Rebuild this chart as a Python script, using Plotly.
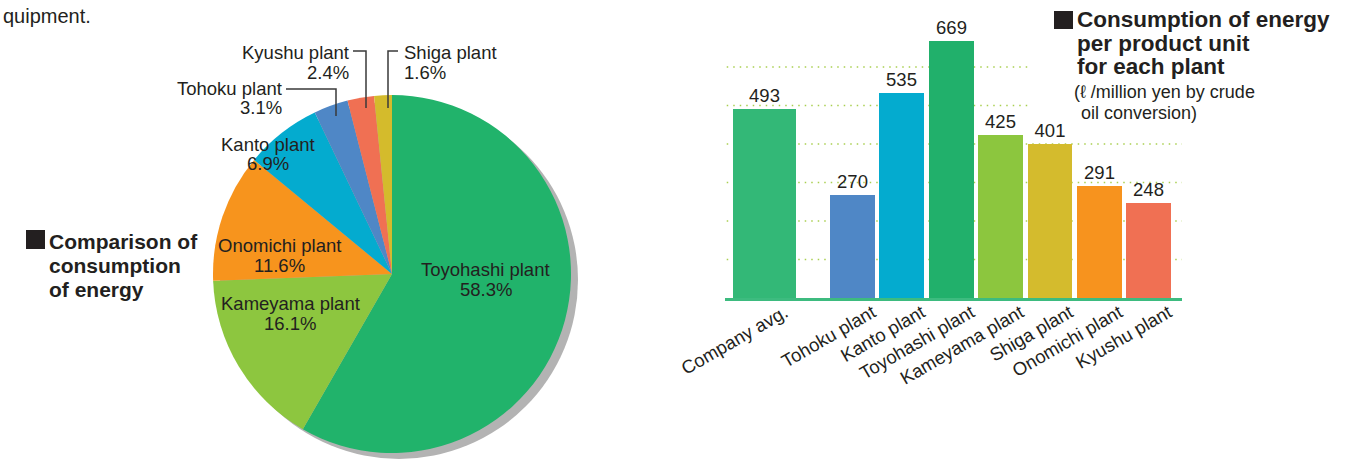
import plotly.graph_objects as go

# ---------------- data ----------------
pie_labels = ["Toyohashi plant", "Kameyama plant", "Onomichi plant", "Kanto plant",
              "Tohoku plant", "Kyushu plant", "Shiga plant"]
pie_values = [58.3, 16.1, 11.6, 6.9, 3.1, 2.4, 1.6]
pie_colors = ["#21b36b", "#8dc63f", "#f7941d", "#04abcf", "#4f87c6", "#f07053", "#d4bb2c"]

bar_categories = ["Company avg.", "Tohoku plant", "Kanto plant", "Toyohashi plant",
                  "Kameyama plant", "Shiga plant", "Onomichi plant", "Kyushu plant"]
bar_values = [493, 270, 535, 669, 425, 401, 291, 248]
bar_colors = ["#33b877", "#4f87c6", "#04abcf", "#21b06b", "#8cc63e", "#d4bb2d", "#f7931e", "#f07053"]
grid_values = [100, 200, 300, 400, 500, 600]

# ---------------- helpers ----------------
W, H = 1371, 460
FONT = "Liberation Sans, Arial, Helvetica, sans-serif"
TXT = "#231f20"


def px(x):
    return x / W


def py(y):
    return 1 - y / H


fig = go.Figure()

# ---------------- pie ----------------
cx, cy, r = 392, 274, 179
fig.add_trace(go.Pie(
    labels=pie_labels, values=pie_values, sort=False, direction="clockwise", rotation=0,
    marker=dict(colors=pie_colors, line=dict(width=0)),
    textinfo="none", showlegend=False, hoverinfo="label+percent",
    domain=dict(x=[px(cx - r), px(cx + r)], y=[py(cy + r), py(cy - r)]),
))

shapes = []
# pie shadow
shapes.append(dict(type="circle", xref="paper", yref="paper", layer="below",
                   x0=px(cx - r + 7), x1=px(cx + r + 7), y0=py(cy + r + 6), y1=py(cy - r + 6),
                   fillcolor="#b3b3b3", line=dict(width=0)))

annotations = []


def txt(text, x, y, size=18.5, anchor="center", bold=False, color=TXT):
    annotations.append(dict(text=f"<b>{text}</b>" if bold else text, x=px(x), y=py(y),
                            xref="paper", yref="paper", xanchor=anchor, yanchor="middle",
                            showarrow=False, font=dict(family=FONT, size=size, color=color)))


# pie labels
pie_label_pos = {
    "Toyohashi plant": (486, 269, 289, "center"),
    "Kameyama plant": (290, 303, 323, "center"),
    "Onomichi plant": (279, 245, 265, "center"),
    "Kanto plant": (268, 144, 164, "center"),
    "Tohoku plant": (284, 88, 108, "right"),
    "Kyushu plant": (351, 52, 72, "right"),
    "Shiga plant": (402, 52, 72, "left"),
}
for lab, val in zip(pie_labels, pie_values):
    x, y1, y2, anc = pie_label_pos[lab]
    txt(lab, x, y1, anchor=anc)
    txt(f"{val:.1f}%", x, y2, anchor=anc)

# leader lines
for pts in [[(286, 89), (336, 89), (336, 116)],
            [(353, 51), (366, 51), (366, 108)],
            [(398, 51), (388, 51), (388, 108)]]:
    path = "M " + " L ".join(f"{px(a)},{py(b)}" for a, b in pts)
    shapes.append(dict(type="path", xref="paper", yref="paper", path=path,
                       line=dict(color="#3a3a3a", width=1.5)))

# left title
shapes.append(dict(type="rect", xref="paper", yref="paper", x0=px(26), x1=px(45),
                   y0=py(249), y1=py(230), fillcolor=TXT, line=dict(width=0)))
txt("Comparison of", 47, 241, size=21, anchor="left", bold=True)
txt("consumption", 47, 265, size=21, anchor="left", bold=True)
txt("of energy", 47, 289, size=21, anchor="left", bold=True)

# top-left fragment (visible part of a sentence cropped in the source)
txt("quipment.", 1, 16, size=20, anchor="left")

# ---------------- bars ----------------
plant_x = list(range(len(bar_categories) - 1))
bar_x = [-1.78] + plant_x
bar_w = [1.28] + [0.91] * len(plant_x)
fig.add_trace(go.Bar(
    x=bar_x, y=bar_values, width=bar_w, marker=dict(color=bar_colors, line=dict(width=0)),
    text=[str(v) for v in bar_values], textposition="outside", cliponaxis=False,
    constraintext="none",
    textfont=dict(family=FONT, size=18.5, color=TXT), showlegend=False,
    xaxis="x", yaxis="y",
))

x_lo, x_hi = -2.585, 6.676
for g in grid_values:
    x_end = 3.64 if g >= 500 else x_hi
    shapes.append(dict(type="line", xref="x", yref="y", layer="below",
                       x0=-2.55, x1=x_end, y0=g, y1=g,
                       line=dict(color="#a9cf4f", width=1.5, dash="1.5px,5px")))

# right title
shapes.append(dict(type="rect", xref="paper", yref="paper", x0=px(1054), x1=px(1073),
                   y0=py(29), y1=py(11), fillcolor=TXT, line=dict(width=0)))
txt("Consumption of energy", 1075, 20, size=22.5, anchor="left", bold=True)
txt("per product unit", 1075, 43, size=22.5, anchor="left", bold=True)
txt("for each plant", 1075, 66, size=22.5, anchor="left", bold=True)
txt("(\u2113 /million yen by crude", 1072, 92, size=18, anchor="left")
txt(" oil conversion)", 1074, 113, size=18, anchor="left")

fig.update_layout(
    width=W, height=H, autosize=False,
    margin=dict(l=0, r=0, t=0, b=0, pad=0, autoexpand=False),
    showlegend=False,
    paper_bgcolor="white", plot_bgcolor="rgba(0,0,0,0)",
    shapes=shapes, annotations=annotations, bargap=0,
    xaxis=dict(domain=[px(725), px(1182)], range=[x_lo, x_hi],
               tickvals=bar_x, ticktext=bar_categories, tickangle=-30,
               tickfont=dict(family=FONT, size=18.5, color=TXT),
               showgrid=False, zeroline=False, showline=True, linecolor="#3dbb7f",
               linewidth=2.5, ticks="", ticklabelshift=20, ticklabelstandoff=-6,
               automargin=False),
    yaxis=dict(domain=[py(298), py(28.5)], range=[0, 700], showgrid=False,
               zeroline=False, showticklabels=False, showline=False, automargin=False),
)

fig.write_html("out.html", config={"displayModeBar": False},
               post_script="document.body.style.margin='0px';")
